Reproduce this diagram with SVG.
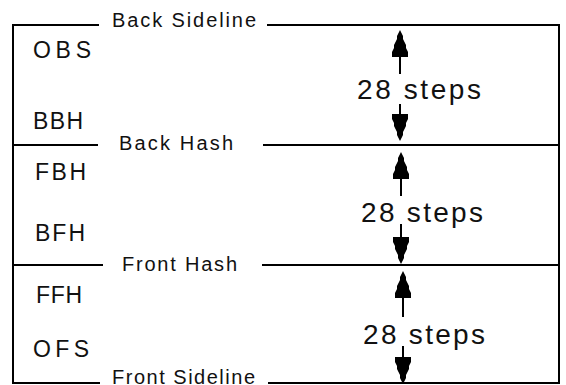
<svg xmlns="http://www.w3.org/2000/svg" width="566" height="385" viewBox="0 0 566 385">
<defs>
<style>
.ln{stroke:#000;stroke-width:2;fill:none}
.sh{stroke:#000;stroke-width:2}
.hd{fill:#000}
.lb{font-family:"Liberation Sans",Arial,sans-serif;font-size:23px;fill:#111}
.ll{font-family:"Liberation Sans",Arial,sans-serif;font-size:20px;fill:#111}
.st{font-family:"Liberation Sans",Arial,sans-serif;font-size:28px;fill:#111}
</style>
<path id="up" class="hd" d="M0,0 L3,6 L3,9 L6,15 L6,18 L8,22 L8,27 L-8,27 L-8,22 L-6,18 L-6,15 L-3,9 L-3,6 Z"/>
</defs>
<rect width="566" height="385" fill="#fff"/>
<g id="frame">
<line class="ln" x1="13" y1="24" x2="13" y2="384"/>
<line class="ln" x1="559" y1="24" x2="559" y2="384"/>
</g>
<g id="back-sideline">
<line class="ln" x1="12" y1="25" x2="99" y2="25"/>
<line class="ln" x1="267" y1="25" x2="560" y2="25"/>
<text class="ll" x="112" y="27" textLength="144" lengthAdjust="spacing">Back Sideline</text>
</g>
<g id="back-hash">
<line class="ln" x1="12" y1="145" x2="98" y2="145"/>
<line class="ln" x1="263" y1="145" x2="560" y2="145"/>
<text class="ll" x="119" y="150" textLength="114" lengthAdjust="spacing">Back Hash</text>
</g>
<g id="front-hash">
<line class="ln" x1="12" y1="265" x2="103" y2="265"/>
<line class="ln" x1="262" y1="265" x2="560" y2="265"/>
<text class="ll" x="122" y="271" textLength="115" lengthAdjust="spacing">Front Hash</text>
</g>
<g id="front-sideline">
<line class="ln" x1="12" y1="383" x2="100" y2="383"/>
<line class="ln" x1="268" y1="383" x2="560" y2="383"/>
<text class="ll" x="112" y="384" textLength="143" lengthAdjust="spacing">Front Sideline</text>
</g>
<g id="labels">
<text class="lb" x="33" y="58" textLength="58" lengthAdjust="spacing">OBS</text>
<text class="lb" x="33" y="129" textLength="50" lengthAdjust="spacing">BBH</text>
<text class="lb" x="35" y="180" textLength="51" lengthAdjust="spacing">FBH</text>
<text class="lb" x="35" y="241" textLength="50" lengthAdjust="spacing">BFH</text>
<text class="lb" x="36" y="303" textLength="46" lengthAdjust="spacing">FFH</text>
<text class="lb" x="33" y="357" textLength="56" lengthAdjust="spacing">OFS</text>
</g>
<g id="connectors">
<g id="dim1">
<use href="#up" x="400" y="30"/>
<line class="sh" x1="400" y1="55" x2="400" y2="74"/>
<line class="sh" x1="400" y1="104" x2="400" y2="116"/>
<use href="#up" transform="translate(400,141) scale(1,-1)"/>
<text class="st" x="357" y="99" textLength="124" lengthAdjust="spacing">28 steps</text>
</g>
<g id="dim2">
<use href="#up" x="401" y="152"/>
<line class="sh" x1="401" y1="177" x2="401" y2="196"/>
<line class="sh" x1="401" y1="224" x2="401" y2="238"/>
<use href="#up" transform="translate(401,264) scale(1,-1)"/>
<text class="st" x="361" y="222" textLength="122" lengthAdjust="spacing">28 steps</text>
</g>
<g id="dim3">
<use href="#up" x="403" y="271"/>
<line class="sh" x1="403" y1="296" x2="403" y2="317"/>
<line class="sh" x1="403" y1="346" x2="403" y2="358"/>
<use href="#up" transform="translate(403,384) scale(1,-1)"/>
<text class="st" x="363" y="344" textLength="122" lengthAdjust="spacing">28 steps</text>
</g>
</g>
</svg>
